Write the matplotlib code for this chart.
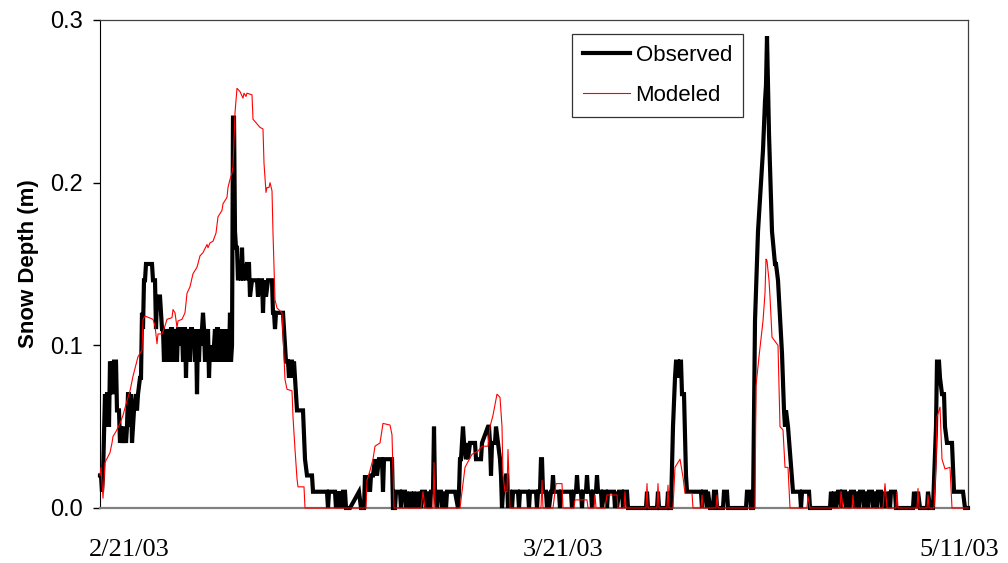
import matplotlib
matplotlib.use("Agg")
import matplotlib.pyplot as plt
from matplotlib.ticker import FormatStrFormatter

# record index (sample number along the record) and snow depth (m)
obs_x = [0, 1, 2, 3, 5, 6, 7, 8, 9, 10, 11, 12, 13, 14, 16, 17, 19, 20, 21, 22, 24, 26, 27, 28, 29, 30,
         31, 32, 33, 34, 36, 37, 38, 40, 41, 42, 43, 44, 45, 46, 52, 53, 55, 56, 57, 60, 61, 62, 63, 64,
         65, 66, 67, 68, 69, 70, 71, 72, 73, 74, 75, 76, 77, 78, 80, 81, 82, 83, 84, 85, 86, 87, 88, 89,
         90, 91, 92, 93, 94, 95, 96, 97, 98, 99, 100, 101, 102, 103, 104, 105, 106, 107, 108, 109, 110,
         111, 112, 113, 114, 115, 116, 117, 118, 119, 120, 121, 122, 123, 124, 125, 126, 127, 128, 129,
         130, 131, 132, 133, 134, 135, 136, 137, 138, 139, 140, 141, 142, 143, 144, 146, 147, 149, 150,
         152, 153, 155, 157, 158, 160, 162, 163, 164, 166, 168, 172, 173, 174, 175, 176, 183, 184, 185,
         186, 188, 189, 190, 192, 193, 194, 196, 197, 203, 205, 207, 212, 213, 227, 228, 229, 235, 236,
         237, 238, 239, 240, 241, 242, 243, 245, 246, 250, 259, 261, 264, 265, 266, 268, 270, 271, 273,
         275, 277, 279, 282, 283, 284, 290, 292, 293, 295, 296, 300, 301, 302, 305, 306, 307, 310, 311,
         313, 314, 317, 318, 321, 322, 325, 326, 327, 330, 331, 333, 334, 335, 337, 338, 341, 342, 343,
         346, 347, 355, 358, 359, 360, 361, 363, 364, 366, 367, 368, 370, 375, 376, 381, 382, 388, 389,
         390, 391, 392, 395, 396, 398, 400, 401, 402, 403, 406, 407, 408, 409,
         410, 412, 413, 418, 419, 420, 428, 429, 430, 436, 437, 438, 440, 441, 442, 443, 446, 447, 448,
         449, 451, 452, 453, 454, 459, 460, 461, 471, 472, 474, 476, 477, 478, 481, 482, 483, 486, 487,
         488, 491, 492, 493, 496, 497, 498, 501, 502, 503, 506, 507, 508, 514, 515, 516, 517, 519, 522,
         523, 524, 527, 528, 546, 547, 548, 557, 558, 559, 567, 568, 569, 571, 573, 575, 576, 578, 579,
         580, 581, 582, 584, 586, 587, 600, 601, 602, 603, 606, 607, 608, 610, 613, 614, 616, 617, 623,
         624, 627, 628, 646, 647, 650, 651, 653, 655, 658, 661, 663, 665, 666, 667, 668, 669, 672, 675,
         676, 678, 682, 684, 685, 686, 688, 693, 700, 701, 702, 709, 710, 730, 731, 733, 734, 736, 738,
         740, 741, 742, 745, 746, 747, 750, 751, 754, 755, 756, 759, 760, 763, 764, 765, 768, 769, 772,
         773, 774, 777, 778, 781, 782, 783, 786, 787, 790, 791, 795, 796, 813, 814, 816, 818, 820, 827,
         828, 830, 833, 836, 837, 839, 840, 842, 844, 845, 847, 852, 854, 863, 865, 868]
obs_y = [0.02, 0.02, 0.01, 0.02, 0.07, 0.05, 0.07, 0.07, 0.05, 0.09, 0.07, 0.09, 0.07, 0.09, 0.09, 0.06,
         0.06, 0.04, 0.05, 0.04, 0.05, 0.04, 0.05, 0.07, 0.07, 0.05, 0.07, 0.04, 0.05, 0.06, 0.07, 0.06,
         0.07, 0.08, 0.08, 0.12, 0.11, 0.14, 0.14, 0.15, 0.15, 0.14, 0.14, 0.11, 0.13, 0.13, 0.12, 0.11,
         0.11, 0.09,
         0.11, 0.09, 0.11, 0.10, 0.11, 0.09, 0.11, 0.11, 0.09, 0.11, 0.10, 0.11, 0.09, 0.11, 0.11, 0.10,
         0.11, 0.09, 0.11, 0.11, 0.08, 0.11, 0.10, 0.11, 0.09, 0.11, 0.11, 0.10, 0.11, 0.09, 0.11, 0.07,
         0.11, 0.09, 0.11, 0.10, 0.11, 0.12, 0.11, 0.09, 0.11, 0.10, 0.11, 0.08, 0.10, 0.09, 0.10, 0.09,
         0.10, 0.11, 0.09, 0.11, 0.11, 0.09, 0.11, 0.09, 0.11, 0.09, 0.10, 0.09, 0.11, 0.09, 0.10, 0.09,
         0.12, 0.09, 0.10, 0.24, 0.24, 0.17, 0.16, 0.16, 0.14, 0.15, 0.15, 0.14, 0.16, 0.14, 0.15, 0.14,
         0.15, 0.15, 0.13, 0.14, 0.14, 0.14, 0.14, 0.13, 0.14, 0.14, 0.12, 0.14, 0.13, 0.14, 0.14, 0.12,
         0.12, 0.11, 0.12, 0.12, 0.11, 0.10, 0.09, 0.09, 0.08, 0.09, 0.09, 0.08, 0.09, 0.07, 0.06, 0.06,
         0.03, 0.02, 0.02, 0.01, 0.01, 0.0, 0.01, 0.01, 0.0, 0.01, 0.0, 0.01, 0.0, 0.01, 0.0, 0.01, 0.01,
         0.0, 0.0, 0.01, 0.0, 0.0, 0.02, 0.01, 0.02, 0.01, 0.02, 0.02, 0.03, 0.02, 0.03, 0.03, 0.01, 0.03,
         0.03, 0.03, 0.0, 0.0, 0.01, 0.01, 0.0, 0.01, 0.01, 0.0, 0.01, 0.0, 0.01, 0.0, 0.01, 0.0, 0.01,
         0.0, 0.01, 0.01, 0.0, 0.01, 0.0, 0.01, 0.01, 0.05, 0.01, 0.0, 0.01, 0.01, 0.0, 0.01, 0.0, 0.01,
         0.01, 0.0, 0.01, 0.03, 0.03, 0.05, 0.04, 0.03, 0.04, 0.03, 0.04, 0.04, 0.03, 0.03, 0.04, 0.05,
         0.05, 0.04, 0.02, 0.04, 0.04, 0.05, 0.04, 0.03, 0.02, 0.0, 0.01, 0.02, 0.02, 0.0, 0.01,
         0.01, 0.0, 0.01, 0.01, 0.0, 0.01, 0.01, 0.0, 0.01, 0.01, 0.0, 0.01, 0.01, 0.03, 0.03, 0.01, 0.01,
         0.0, 0.01, 0.0, 0.01, 0.01, 0.02, 0.01, 0.01, 0.0, 0.01, 0.01, 0.0, 0.01, 0.01, 0.02, 0.01, 0.01,
         0.0, 0.01, 0.01, 0.02, 0.01, 0.01, 0.0, 0.01, 0.01, 0.02, 0.01, 0.01, 0.0, 0.01, 0.01, 0.0, 0.01,
         0.01, 0.0, 0.01, 0.0, 0.01, 0.01, 0.0, 0.01, 0.01, 0.0, 0.0, 0.01, 0.0, 0.0, 0.01, 0.0, 0.0, 0.01,
         0.0, 0.0, 0.05, 0.08, 0.09, 0.09, 0.08, 0.09, 0.09, 0.07, 0.07, 0.02, 0.01, 0.01, 0.01, 0.0,
         0.01, 0.01, 0.0, 0.01, 0.0, 0.0, 0.01, 0.01, 0.0, 0.0, 0.01, 0.01, 0.0, 0.0, 0.01, 0.01, 0.0, 0.0,
         0.115, 0.17, 0.20, 0.22, 0.25, 0.26, 0.29, 0.26, 0.23, 0.17, 0.15, 0.15, 0.14, 0.095, 0.06, 0.05,
         0.06, 0.05, 0.01, 0.01, 0.0, 0.01, 0.01, 0.0, 0.0, 0.01, 0.0, 0.01, 0.0, 0.01, 0.01, 0.0, 0.01,
         0.01, 0.0, 0.01, 0.0, 0.01, 0.01, 0.0, 0.01, 0.0, 0.01, 0.01, 0.0, 0.01, 0.0, 0.01, 0.01, 0.0,
         0.01, 0.0, 0.01, 0.01, 0.0, 0.01, 0.0, 0.01, 0.0, 0.01, 0.01, 0.0, 0.0, 0.01, 0.0, 0.01, 0.0,
         0.0, 0.01, 0.0, 0.0, 0.05, 0.09, 0.09, 0.08, 0.07, 0.07, 0.05, 0.04, 0.04, 0.01, 0.01, 0.0, 0.0]

mod_x = [0, 1, 3, 5, 10, 12, 13, 16, 20, 23, 27, 30, 33, 38, 42, 43, 45, 53, 55, 57, 58, 62, 65, 67, 72,
         73, 75, 77, 78, 82, 85, 87, 90, 93, 97, 100, 103, 107, 108, 110, 113, 116, 118, 122, 123, 127,
         128, 130, 132, 133, 135, 137, 140, 143, 144, 146, 147, 152, 153, 160, 163, 164, 166, 167, 169,
         170, 172, 173, 175, 177, 182, 183, 185, 187, 192, 193, 195, 197, 198, 204, 205, 266, 267, 270,
         273, 275, 280, 283, 290, 292, 294, 321, 323, 325, 333, 334, 335, 360, 362, 365, 372, 378, 382,
         388, 390, 393, 397, 400, 402, 403, 405, 407, 408, 410, 441, 442, 443, 453, 455, 456, 462, 463,
         474, 475, 487, 488, 494, 495, 496, 505, 507, 517, 518, 524, 525, 526, 546, 547, 548, 557, 558,
         559, 567, 568, 569, 573, 575, 580, 583, 585, 592, 593, 601, 602, 603, 616, 617, 618, 655, 656,
         659, 663, 665, 666, 667, 669, 670, 672, 678, 680, 683, 685, 688, 690, 707, 708, 710, 740, 741,
         743, 752, 753, 754, 783, 785, 787, 796, 797, 798, 817, 818, 819, 827, 828, 829, 834, 836, 837,
         840, 842, 845, 850, 852, 868]
mod_y = [0.02, 0.025, 0.006, 0.028, 0.034, 0.04, 0.044, 0.047, 0.052, 0.057, 0.066, 0.072, 0.081, 0.093,
         0.097, 0.116, 0.118, 0.116, 0.112, 0.101, 0.107, 0.107, 0.112, 0.116, 0.117, 0.122, 0.12, 0.111,
         0.115, 0.116, 0.12, 0.132, 0.136, 0.144, 0.148, 0.155, 0.157, 0.162, 0.16, 0.163, 0.164, 0.169,
         0.179, 0.183, 0.187, 0.191, 0.197, 0.202, 0.206, 0.21, 0.243, 0.258, 0.256, 0.252, 0.255, 0.253,
         0.255, 0.254, 0.239, 0.234, 0.233, 0.212, 0.194, 0.197, 0.197, 0.2, 0.195, 0.169, 0.128, 0.123,
         0.12, 0.107, 0.079, 0.073, 0.072, 0.056, 0.036, 0.018, 0.013, 0.013, 0.0, 0.0, 0.017, 0.023,
         0.03, 0.038, 0.04, 0.052, 0.051, 0.045, 0.0, 0.0, 0.01, 0.0, 0.0, 0.028, 0.0, 0.0, 0.01, 0.025,
         0.033, 0.035, 0.038, 0.038, 0.05, 0.057, 0.07, 0.068, 0.05, 0.02, 0.01, 0.01, 0.036, 0.0, 0.0,
         0.017, 0.0, 0.0, 0.01, 0.015, 0.015, 0.0, 0.0, 0.005, 0.005, 0.0, 0.0, 0.008, 0.0, 0.0, 0.008,
         0.008, 0.0, 0.0, 0.01, 0.0, 0.0, 0.015, 0.0, 0.0, 0.015, 0.0, 0.0, 0.014, 0.0, 0.0, 0.025, 0.03,
         0.019, 0.009, 0.009, 0.0, 0.0, 0.008, 0.0, 0.0, 0.008, 0.0, 0.0, 0.075, 0.093, 0.115, 0.132,
         0.153, 0.152, 0.14, 0.13, 0.105, 0.1, 0.05, 0.048, 0.025, 0.025, 0.0, 0.0, 0.007, 0.0, 0.0, 0.01,
         0.0, 0.0, 0.008, 0.0, 0.0, 0.015, 0.0, 0.0, 0.01, 0.0, 0.0, 0.012, 0.0, 0.0, 0.008, 0.0, 0.0,
         0.027, 0.056, 0.062, 0.03, 0.024, 0.025, 0.0, 0.0]

date_ticks = [29, 463, 859]
date_labels = ["2/21/03", "3/21/03", "5/11/03"]
y_ticks = [0.0, 0.1, 0.2, 0.3]

plt.rcParams['font.family'] = ['Liberation Sans', 'DejaVu Sans']

fig = plt.figure(figsize=(10.08, 5.63), dpi=100)
ax = fig.add_axes([100 / 1008, 55 / 563, 868 / 1008, 488 / 563])

ax.plot(obs_x, obs_y, color='black', linewidth=3, label='Observed', clip_on=False,
        solid_joinstyle='miter', zorder=3)
ax.plot(mod_x, mod_y, color='#ff0000', linewidth=0.8, label='Modeled', clip_on=False, zorder=4)

ax.set_xlim(0, 868)
ax.set_ylim(0, 0.3)
ax.set_yticks(y_ticks)
ax.yaxis.set_major_formatter(FormatStrFormatter('%.1f'))
ax.set_xticks(date_ticks)
ax.set_xticklabels(date_labels, fontfamily='Liberation Serif', fontsize=19)
ax.tick_params(axis='x', length=0, pad=22)
ax.tick_params(axis='y', direction='out', length=5, width=1, labelsize=17, pad=7)
ax.set_ylabel('Snow Depth (m)', fontsize=16, fontweight='bold', labelpad=8)

ax.spines['left'].set_color('black')
ax.spines['bottom'].set_color('#808080')
ax.spines['bottom'].set_linewidth(1.6)
ax.spines['top'].set_color('#404040')
ax.spines['right'].set_color('#404040')
ax.spines['top'].set_linewidth(0.9)
ax.spines['right'].set_linewidth(0.9)

leg = ax.legend(loc='upper left', bbox_to_anchor=(0.544, 0.971), borderaxespad=0, fontsize=16,
                frameon=True, fancybox=False, handlelength=2.1, handletextpad=0.25,
                borderpad=0.5, labelspacing=0.85)
leg.get_frame().set_edgecolor('black')
leg.get_frame().set_linewidth(0.9)

plt.savefig('out.png', dpi=100)
